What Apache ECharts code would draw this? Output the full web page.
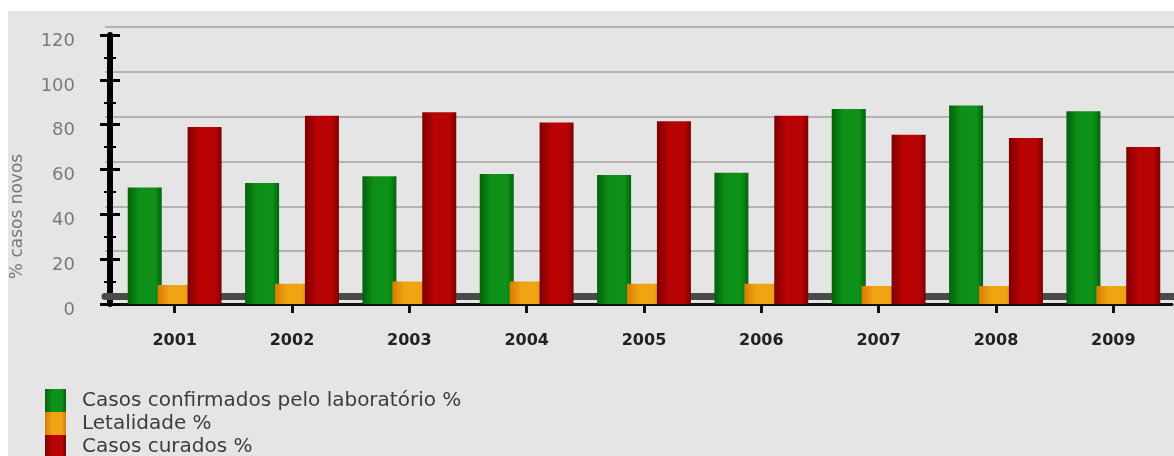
<!DOCTYPE html>
<html>
<head>
<meta charset="utf-8">
<script src="https://cdn.jsdelivr.net/npm/echarts@6/dist/echarts.min.js"></script>
<style>
  html, body { margin: 0; padding: 0; background: #ffffff; }
  #bg { position: absolute; left: 8px; top: 11px; right: 0; bottom: 0; background: #e5e5e5; }
  #chart { position: absolute; left: 0; top: 0; width: 1174px; height: 456px; }
</style>
</head>
<body>
<div id="bg"></div>
<div id="chart"></div>
<script>
// data
var years = ['2001', '2002', '2003', '2004', '2005', '2006', '2007', '2008', '2009'];
var confirmados = [52, 54, 57, 58, 57.5, 58.5, 87, 88.5, 86];
var letalidade = [8.5, 9, 10, 10, 9, 9, 8, 8, 8];
var curados = [79, 84, 85.5, 81, 81.5, 84, 75.5, 74, 70];
var yTicks = [0, 20, 40, 60, 80, 100, 120];

function shade(dark, light) {
    return {
        type: 'linear', x: 0, y: 0, x2: 1, y2: 0,
        colorStops: [
            { offset: 0, color: dark },
            { offset: 0.35, color: light },
            { offset: 0.8, color: light },
            { offset: 1, color: dark }
        ]
    };
}

var chart = echarts.init(document.getElementById('chart'));
var option = {
    animation: false,
    color: ['#0a7a12', '#f08a0a', '#a00000'],
    textStyle: { fontFamily: 'DejaVu Sans' },
    grid: [
        // back wall (grid lines + floor)
        { left: 105, right: 0, top: 27, bottom: 160 },
        // front axis + bars
        { left: 116, right: 2, top: 35, bottom: 152 }
    ],
    legend: {
        orient: 'vertical',
        left: 45,
        top: 389,
        height: 120,
        padding: 0,
        itemWidth: 21,
        itemHeight: 23,
        itemGap: 0,
        icon: 'rect',
        textStyle: { fontSize: 20, color: '#3c3c3c', padding: [0, 0, 0, 11] },
        data: ['Casos confirmados pelo laboratório %', 'Letalidade %', 'Casos curados %']
    },
    xAxis: [{
        gridIndex: 0,
        type: 'category',
        data: years,
        z: 0,
        offset: 3,
        axisLine: { show: true, lineStyle: { color: '#4a4a4a', width: 7 } },
        axisTick: { show: false },
        axisLabel: { show: false }
    }, {
        gridIndex: 1,
        type: 'category',
        data: years,
        axisLine: { show: true, lineStyle: { color: '#111', width: 3 } },
        axisTick: { show: true, alignWithLabel: true, length: 9, lineStyle: { color: '#111', width: 3 } },
        axisLabel: { margin: 29, fontSize: 16, fontWeight: 'bold', color: '#222' }
    }],
    yAxis: [{
        gridIndex: 0,
        type: 'value',
        min: yTicks[0],
        max: yTicks[yTicks.length - 1],
        interval: 20,
        axisLine: { show: false },
        axisTick: { show: false },
        axisLabel: { show: false },
        splitLine: { show: true, lineStyle: { color: '#b3b3b3', width: 2 } }
    }, {
        gridIndex: 1,
        type: 'value',
        position: 'left',
        offset: 6,
        min: yTicks[0],
        max: yTicks[yTicks.length - 1],
        interval: 20,
        name: '% casos novos',
        nameLocation: 'middle',
        nameGap: 84,
        nameTextStyle: { fontSize: 17, color: '#777', padding: [0, 94, 0, 0] },
        axisLine: { show: true, lineStyle: { color: '#000', width: 6 } },
        axisTick: { show: true, inside: false, length: 10, lineStyle: { color: '#000', width: 3 } },
        minorTick: { show: true, splitNumber: 2, length: 6, lineStyle: { color: '#000', width: 2 } },
        axisLabel: { margin: 35, fontSize: 18, color: '#7a7a7a', verticalAlign: 'top', lineHeight: 12 },
        splitLine: { show: false }
    }, {
        gridIndex: 1,
        type: 'value',
        position: 'left',
        offset: 6,
        min: yTicks[0],
        max: yTicks[yTicks.length - 1],
        interval: 20,
        axisLine: { show: false },
        axisTick: { show: true, inside: true, length: 10, lineStyle: { color: '#000', width: 3 } },
        minorTick: { show: true, splitNumber: 2, length: 6, lineStyle: { color: '#000', width: 2 } },
        axisLabel: { show: false },
        splitLine: { show: false }
    }],
    series: [{
        name: 'Casos confirmados pelo laboratório %',
        type: 'bar',
        xAxisIndex: 1,
        yAxisIndex: 1,
        z: 3,
        data: confirmados,
        barWidth: 34,
        barGap: '-12%',
        itemStyle: { color: shade('#05620c', '#0e9119') }
    }, {
        name: 'Letalidade %',
        type: 'bar',
        xAxisIndex: 1,
        yAxisIndex: 1,
        z: 3,
        data: letalidade,
        barWidth: 34,
        barGap: '-12%',
        itemStyle: { color: shade('#d97a05', '#f0a414') }
    }, {
        name: 'Casos curados %',
        type: 'bar',
        xAxisIndex: 1,
        yAxisIndex: 1,
        z: 3,
        data: curados,
        barWidth: 34,
        barGap: '-12%',
        itemStyle: { color: shade('#7e0000', '#b80404') }
    }]
};
chart.setOption(option);
</script>
</body>
</html>
